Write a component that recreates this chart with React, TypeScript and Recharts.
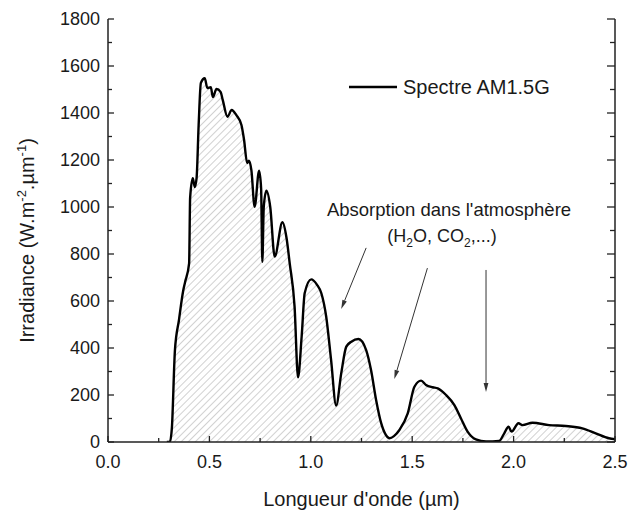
import React from "react";
import {
  ComposedChart,
  Area,
  Line,
  XAxis,
  YAxis,
  ReferenceLine,
  Label,
} from "recharts";

// AM1.5G spectrum, wavelength in µm
const wavelength = [
  0.29, 0.305, 0.315, 0.33, 0.35, 0.371, 0.38, 0.4, 0.405, 0.418, 0.428, 0.437,
  0.447, 0.458, 0.477, 0.49, 0.507, 0.517, 0.535, 0.555, 0.566, 0.589, 0.61,
  0.633, 0.658, 0.671, 0.686, 0.695, 0.707, 0.723, 0.745, 0.755, 0.761, 0.768,
  0.781, 0.8, 0.822, 0.86, 0.88, 0.896, 0.92, 0.937, 0.955, 0.97, 1.002, 1.03,
  1.052, 1.076, 1.1, 1.125, 1.15, 1.175, 1.2, 1.235, 1.273, 1.297, 1.322,
  1.347, 1.37, 1.388, 1.41, 1.437, 1.478, 1.511, 1.544, 1.568, 1.601, 1.626,
  1.667, 1.708, 1.74, 1.773, 1.814, 1.864, 1.929, 1.954, 1.975, 1.99, 2.024,
  2.044, 2.093, 2.175, 2.257, 2.339, 2.405, 2.47, 2.5,
];

// irradiance in W.m-2.µm-1
const irradiance = [
  0, 0, 60, 390, 520, 645, 680, 760, 1040, 1123, 1085, 1125,
  1350, 1528, 1548, 1506, 1510, 1468, 1502, 1490, 1455, 1384, 1413,
  1391, 1349, 1285, 1187, 1197, 1157, 1001, 1154, 1080, 767, 1000,
  1069, 1000, 789, 935, 870, 760, 576, 275, 450, 634, 692, 670,
  633, 533, 349, 155, 292, 406, 427, 438, 391, 306, 179,
  80, 30, 16, 25, 51, 122, 235, 261, 243, 233, 228,
  200, 157, 101, 44, 11, 2, 5, 37, 65, 44, 80,
  72, 82, 72, 68, 58, 37, 16, 12,
];

const xTicks = [0, 0.25, 0.5, 0.75, 1, 1.25, 1.5, 1.75, 2, 2.25, 2.5];
const yTicks = [
  0, 100, 200, 300, 400, 500, 600, 700, 800, 900, 1000, 1100, 1200, 1300, 1400,
  1500, 1600, 1700, 1800,
];

// absorption arrows: start and end in data units (µm, W.m-2.µm-1)
const arrowFromX = [1.273, 1.575, 1.864];
const arrowFromY = [826, 740, 732];
const arrowToX = [1.15, 1.412, 1.864];
const arrowToY = [566, 268, 213];

const data = wavelength.map((w, i) => ({ w, irr: irradiance[i] }));

const FONT = "'Liberation Sans', Arial, sans-serif";
const AXIS = "#222";
const TEXT = "#1a1a1a";

const isMajorX = (v: number) => Math.abs(v * 2 - Math.round(v * 2)) < 1e-6;
const isMajorY = (v: number) => v % 200 === 0;

const BottomTick = ({ x, y, payload }: any) => {
  const major = isMajorX(payload.value);
  return (
    <g>
      <line x1={x} y1={y} x2={x} y2={y - (major ? 6 : 4)} stroke={AXIS} strokeWidth={1.3} />
      {major && (
        <text x={x} y={y + 26} textAnchor="middle" fontSize={18} fontFamily={FONT} fill={TEXT}>
          {payload.value.toFixed(1)}
        </text>
      )}
    </g>
  );
};

const TopTick = ({ x, y, payload }: any) => {
  const major = isMajorX(payload.value);
  return <line x1={x} y1={y} x2={x} y2={y + (major ? 6 : 4)} stroke={AXIS} strokeWidth={1.3} />;
};

const LeftTick = ({ x, y, payload }: any) => {
  const major = isMajorY(payload.value);
  return (
    <g>
      <line x1={x} y1={y} x2={x + (major ? 6 : 4)} y2={y} stroke={AXIS} strokeWidth={1.3} />
      {major && (
        <text
          x={x - 8}
          y={y}
          dy="0.36em"
          textAnchor="end"
          fontSize={18}
          fontFamily={FONT}
          fill={TEXT}
        >
          {payload.value}
        </text>
      )}
    </g>
  );
};

const RightTick = ({ x, y, payload }: any) => {
  const major = isMajorY(payload.value);
  return <line x1={x} y1={y} x2={x - (major ? 8 : 5)} y2={y} stroke={AXIS} strokeWidth={1.3} />;
};

const Arrow = ({ x1, y1, x2, y2 }: any) => {
  const a = Math.atan2(y2 - y1, x2 - x1);
  const c = Math.cos(a);
  const s = Math.sin(a);
  const len = 9;
  const half = 2.4;
  const bx = x2 - len * c;
  const by = y2 - len * s;
  return (
    <g>
      <line x1={x1} y1={y1} x2={bx} y2={by} stroke="#333" strokeWidth={1} />
      <polygon
        points={`${x2},${y2} ${bx - half * s},${by + half * c} ${bx + half * s},${by - half * c}`}
        fill="#333"
      />
    </g>
  );
};

const YTitle = ({ viewBox }: any) => {
  const cx = viewBox.x + viewBox.width - 81;
  const cy = viewBox.y + viewBox.height / 2 + 10;
  return (
    <text
      x={cx}
      y={cy}
      transform={`rotate(-90 ${cx} ${cy})`}
      textAnchor="middle"
      dy="0.36em"
      fontSize={20}
      fontFamily={FONT}
      fill={TEXT}
    >
      Irradiance (W.m
      <tspan dy={-8} fontSize={13}>-2</tspan>
      <tspan dy={8}>.µm</tspan>
      <tspan dy={-8} fontSize={13}>-1</tspan>
      <tspan dy={8}>)</tspan>
    </text>
  );
};

const XTitle = ({ viewBox }: any) => (
  <text
    x={viewBox.x + viewBox.width / 2}
    y={viewBox.y + 64}
    textAnchor="middle"
    fontSize={20}
    fontFamily={FONT}
    fill={TEXT}
  >
    Longueur d'onde (µm)
  </text>
);

const SpectrumChart = () => {
  return (
    <div style={{ position: "absolute", left: 0, top: 0, width: 630, height: 511 }}>
      <ComposedChart
        width={630}
        height={511}
        data={data}
        margin={{ top: 19, right: 0, bottom: 0, left: 0 }}
      >
        <defs>
          <pattern
            id="hatch"
            patternUnits="userSpaceOnUse"
            width={5}
            height={5}
            patternTransform="rotate(45)"
          >
            <line x1={0} y1={0} x2={0} y2={5} stroke="#a3a3a3" strokeWidth={1} />
          </pattern>
        </defs>
        <XAxis
          dataKey="w"
          type="number"
          domain={[0, 2.5]}
          ticks={xTicks}
          interval={0}
          height={69}
          tickSize={0}
          tickMargin={0}
          tickLine={false}
          tick={<BottomTick />}
          axisLine={{ stroke: AXIS, strokeWidth: 1.5 }}
          allowDataOverflow
        >
          <Label content={<XTitle />} />
        </XAxis>
        <XAxis
          xAxisId="top"
          orientation="top"
          dataKey="w"
          type="number"
          domain={[0, 2.5]}
          ticks={xTicks}
          interval={0}
          height={0}
          tickSize={0}
          tickMargin={0}
          tickLine={false}
          tick={<TopTick />}
          axisLine={{ stroke: AXIS, strokeWidth: 1.5 }}
          allowDataOverflow
        />
        <YAxis
          type="number"
          domain={[0, 1800]}
          ticks={yTicks}
          interval={0}
          width={108}
          tickSize={0}
          tickMargin={0}
          tickLine={false}
          tick={<LeftTick />}
          axisLine={{ stroke: AXIS, strokeWidth: 1.5 }}
          allowDataOverflow
        >
          <Label content={<YTitle />} />
        </YAxis>
        <YAxis
          yAxisId="right"
          orientation="right"
          type="number"
          domain={[0, 1800]}
          ticks={yTicks}
          interval={0}
          width={15}
          tickSize={0}
          tickMargin={0}
          tickLine={false}
          tick={<RightTick />}
          axisLine={{ stroke: AXIS, strokeWidth: 1.5 }}
          allowDataOverflow
        />
        <Area
          type="monotone"
          dataKey="irr"
          stroke="#000"
          strokeWidth={2.4}
          fill="url(#hatch)"
          fillOpacity={1}
          dot={false}
          activeDot={false}
          isAnimationActive={false}
        />
        <Line
          xAxisId="top"
          yAxisId="right"
          type="monotone"
          dataKey="irr"
          stroke="none"
          dot={false}
          activeDot={false}
          isAnimationActive={false}
        />
        {arrowFromX.map((x0, i) => (
          <ReferenceLine
            key={i}
            segment={[
              { x: x0, y: arrowFromY[i] },
              { x: arrowToX[i], y: arrowToY[i] },
            ]}
            shape={<Arrow />}
          />
        ))}
      </ComposedChart>
      <svg
        width={630}
        height={511}
        style={{ position: "absolute", left: 0, top: 0, pointerEvents: "none" }}
        fontFamily={FONT}
        fill={TEXT}
      >
        <line x1={349} y1={87} x2={397} y2={87} stroke="#000" strokeWidth={2.4} />
        <text x={403} y={94} fontSize={20}>
          Spectre AM1.5G
        </text>
        <text x={449} y={216} fontSize={18.5} textAnchor="middle">
          Absorption dans l'atmosphère
        </text>
        <text x={442} y={242} fontSize={18} textAnchor="middle">
          (H<tspan dy={5} fontSize={12}>2</tspan>
          <tspan dy={-5}>O, CO</tspan>
          <tspan dy={5} fontSize={12}>2</tspan>
          <tspan dy={-5}>,...)</tspan>
        </text>
      </svg>
    </div>
  );
};

export default SpectrumChart;
